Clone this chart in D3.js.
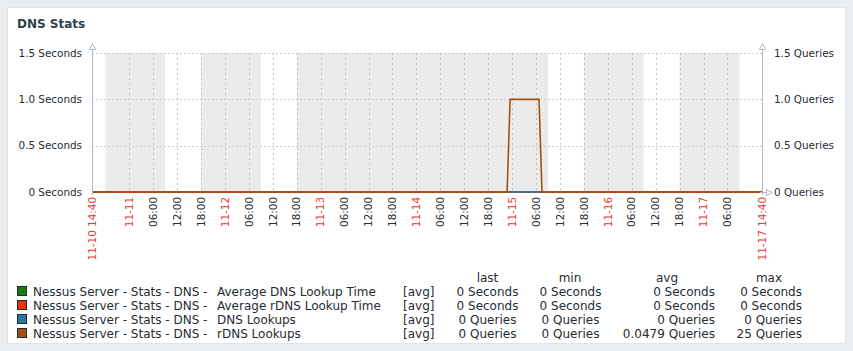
<!DOCTYPE html>
<html><head><meta charset="utf-8">
<script src="https://cdn.jsdelivr.net/npm/d3@7"></script>
<style>
body{margin:0;background:#ebeef0;}
svg{display:block;}
text{font-family:"DejaVu Sans",sans-serif;}
</style></head>
<body>
<svg id="c" width="853" height="351"></svg>
<script>
// ---- data ----
const title = "DNS Stats";
const timeStart = "2021-11-10 14:40";
const timeEnd = "2021-11-17 14:40";
const yTicksLeft = [0, 0.5, 1.0, 1.5];
const yTickLabelsLeft = ["0 Seconds", "0.5 Seconds", "1.0 Seconds", "1.5 Seconds"];
const yTickLabelsRight = ["0 Queries", "0.5 Queries", "1.0 Queries", "1.5 Queries"];
const xTickTimes = ["2021-11-10 14:40","2021-11-11 00:00","2021-11-11 06:00","2021-11-11 12:00","2021-11-11 18:00",
  "2021-11-12 00:00","2021-11-12 06:00","2021-11-12 12:00","2021-11-12 18:00",
  "2021-11-13 00:00","2021-11-13 06:00","2021-11-13 12:00","2021-11-13 18:00",
  "2021-11-14 00:00","2021-11-14 06:00","2021-11-14 12:00","2021-11-14 18:00",
  "2021-11-15 00:00","2021-11-15 06:00","2021-11-15 12:00","2021-11-15 18:00",
  "2021-11-16 00:00","2021-11-16 06:00","2021-11-16 12:00","2021-11-16 18:00",
  "2021-11-17 00:00","2021-11-17 06:00","2021-11-17 14:40"];
const xTickLabels = ["11-10 14:40","11-11","06:00","12:00","18:00","11-12","06:00","12:00","18:00",
  "11-13","06:00","12:00","18:00","11-14","06:00","12:00","18:00","11-15","06:00","12:00","18:00",
  "11-16","06:00","12:00","18:00","11-17","06:00","11-17 14:40"];
const xTickIsDate = [1,1,0,0,0,1,0,0,0,1,0,0,0,1,0,0,0,1,0,0,0,1,0,0,0,1,0,1];
const nonWorkStart = ["2021-11-10 18:00","2021-11-11 18:00","2021-11-12 18:00","2021-11-15 18:00","2021-11-16 18:00"];
const nonWorkEnd   = ["2021-11-11 09:00","2021-11-12 09:00","2021-11-15 09:00","2021-11-16 09:00","2021-11-17 09:00"];

const seriesNames = ["Average DNS Lookup Time","Average rDNS Lookup Time","DNS Lookups","rDNS Lookups"];
const seriesColors = ["#1a7c11","#f63100","#2774a4","#a54f10"];
const seriesAxis = ["left","left","right","right"];
const avgTimeTimes = ["2021-11-10 14:40","2021-11-17 14:40"];
const avgDnsTimeValues = [0, 0];
const avgRdnsTimeValues = [0, 0];
const dnsLookupTimes = ["2021-11-14 22:50","2021-11-15 07:30"];
const dnsLookupValues = [0, 0];
const rdnsLookupTimes = ["2021-11-10 14:40","2021-11-14 22:45","2021-11-14 23:30","2021-11-15 06:45","2021-11-15 07:30","2021-11-17 14:40"];
const rdnsLookupValues = [0, 0, 1, 1, 0, 0];
const legendLast = ["0 Seconds","0 Seconds","0 Queries","0 Queries"];
const legendMin  = ["0 Seconds","0 Seconds","0 Queries","0 Queries"];
const legendAvg  = ["0 Seconds","0 Seconds","0 Queries","0.0479 Queries"];
const legendMax  = ["0 Seconds","0 Seconds","0 Queries","25 Queries"];

// ---- drawing ----
const parse = d3.utcParse("%Y-%m-%d %H:%M");
const svg = d3.select("#c");
const L = 92, R = 762, T = 53, B = 192;
const x = d3.scaleUtc().domain([parse(timeStart), parse(timeEnd)]).range([L, R]);
const yL = d3.scaleLinear().domain([0, 1.5]).range([B, T]);
const yR = d3.scaleLinear().domain([0, 1.5]).range([B, T]);
const axisCol = "#acbbc2", textCol = "#1f2c33";

svg.append("rect").attr("x",7.5).attr("y",7.5).attr("width",838).attr("height",336)
  .attr("fill","#fff").attr("stroke","#dfe4e7");
svg.append("text").attr("x",17).attr("y",28).attr("font-size",12).attr("font-weight","bold")
  .attr("fill","#2c3e4b").text(title);

// shaded non-working periods
svg.append("g").selectAll("rect").data(nonWorkStart).join("rect")
  .attr("x",(d)=>x(parse(d))).attr("y",T)
  .attr("width",(d,i)=>x(parse(nonWorkEnd[i]))-x(parse(d))).attr("height",B-T)
  .attr("fill","#ebebeb");

// horizontal grid
svg.append("g").selectAll("line").data(yTicksLeft.filter(v=>v>0)).join("line")
  .attr("x1",L).attr("x2",R).attr("y1",d=>Math.round(yL(d))+0.5).attr("y2",d=>Math.round(yL(d))+0.5)
  .attr("stroke","#c8d0d4").attr("stroke-dasharray","2,2");
// vertical grid
svg.append("g").selectAll("line").data(xTickTimes.slice(1,-1)).join("line")
  .attr("x1",d=>Math.round(x(parse(d)))+0.5).attr("x2",d=>Math.round(x(parse(d)))+0.5)
  .attr("y1",T).attr("y2",B).attr("stroke","#b9c5cb").attr("stroke-dasharray","2,3");

// y axis labels
const gl = svg.append("g").attr("font-size",10.4).attr("fill",textCol);
gl.selectAll("text").data(yTicksLeft).join("text")
  .attr("x",82).attr("y",d=>yL(d)).attr("dy","0.36em").attr("text-anchor","end")
  .text((d,i)=>yTickLabelsLeft[i]);
const gr = svg.append("g").attr("font-size",10.4).attr("fill",textCol);
gr.selectAll("text").data(yTicksLeft).join("text")
  .attr("x",774).attr("y",d=>yR(d)).attr("dy","0.36em").attr("text-anchor","start")
  .text((d,i)=>yTickLabelsRight[i]);

// x labels
svg.append("g").attr("font-size",10.4).selectAll("text").data(xTickTimes).join("text")
  .attr("transform",d=>`translate(${x(parse(d))},197) rotate(-90)`)
  .attr("dy","0.36em").attr("text-anchor","end")
  .attr("fill",(d,i)=>xTickIsDate[i]?"#e53935":textCol)
  .text((d,i)=>xTickLabels[i]);

// series lines
const seriesData = [
  [avgTimeTimes, avgDnsTimeValues],
  [avgTimeTimes, avgRdnsTimeValues],
  [dnsLookupTimes, dnsLookupValues],
  [rdnsLookupTimes, rdnsLookupValues]
];
seriesData.forEach((s,i)=>{
  const sc = seriesAxis[i]==="left"?yL:yR;
  const pts = s[0].map((t,j)=>[x(parse(t)), sc(s[1][j])]);
  svg.append("path").attr("d",d3.line()(pts)).attr("fill","none")
    .attr("stroke",seriesColors[i]).attr("stroke-width",1.6);
});

// axes
const ax = svg.append("g").attr("stroke",axisCol).attr("fill","#fff");
ax.append("line").attr("x1",L+0.5).attr("x2",L+0.5).attr("y1",48).attr("y2",B+3);
ax.append("line").attr("x1",R+0.5).attr("x2",R+0.5).attr("y1",48).attr("y2",B+3);
ax.append("line").attr("x1",R-2).attr("x2",R+4).attr("y1",B+0.5).attr("y2",B+0.5);
ax.append("path").attr("d",`M${L-2.5},49.5 L${L+3.5},49.5 L${L+0.5},43.5 Z`);
ax.append("path").attr("d",`M${R-2.5},49.5 L${R+3.5},49.5 L${R+0.5},43.5 Z`);
ax.append("path").attr("d",`M${R+4.5},${B-2.5} L${R+4.5},${B+3.5} L${R+10.5},${B+0.5} Z`);

// legend
const lg = svg.append("g").attr("font-size",12).attr("fill",textCol);
const rowY = [291.5, 305.5, 319.5, 333.5];
lg.append("text").attr("x",487.5).attr("y",277.5).attr("dy","0.36em").attr("text-anchor","middle").text("last");
lg.append("text").attr("x",570).attr("y",277.5).attr("dy","0.36em").attr("text-anchor","middle").text("min");
lg.append("text").attr("x",667).attr("y",277.5).attr("dy","0.36em").attr("text-anchor","middle").text("avg");
lg.append("text").attr("x",769).attr("y",277.5).attr("dy","0.36em").attr("text-anchor","middle").text("max");
seriesNames.forEach((n,i)=>{
  const yy = rowY[i];
  lg.append("rect").attr("x",17.5).attr("y",yy-5).attr("width",9).attr("height",9)
    .attr("fill",seriesColors[i]).attr("stroke","#1f2c33").attr("stroke-width",1);
  lg.append("text").attr("x",33).attr("y",yy).attr("dy","0.36em").text("Nessus Server - Stats - DNS -");
  lg.append("text").attr("x",217).attr("y",yy).attr("dy","0.36em").text(n);
  lg.append("text").attr("x",403).attr("y",yy).attr("dy","0.36em").text("[avg]");
  lg.append("text").attr("x",487.5).attr("y",yy).attr("dy","0.36em").attr("text-anchor","middle").text(legendLast[i]);
  lg.append("text").attr("x",570.5).attr("y",yy).attr("dy","0.36em").attr("text-anchor","middle").text(legendMin[i]);
  lg.append("text").attr("x",715).attr("y",yy).attr("dy","0.36em").attr("text-anchor","end").text(legendAvg[i]);
  lg.append("text").attr("x",802).attr("y",yy).attr("dy","0.36em").attr("text-anchor","end").text(legendMax[i]);
});
</script>
</body></html>
